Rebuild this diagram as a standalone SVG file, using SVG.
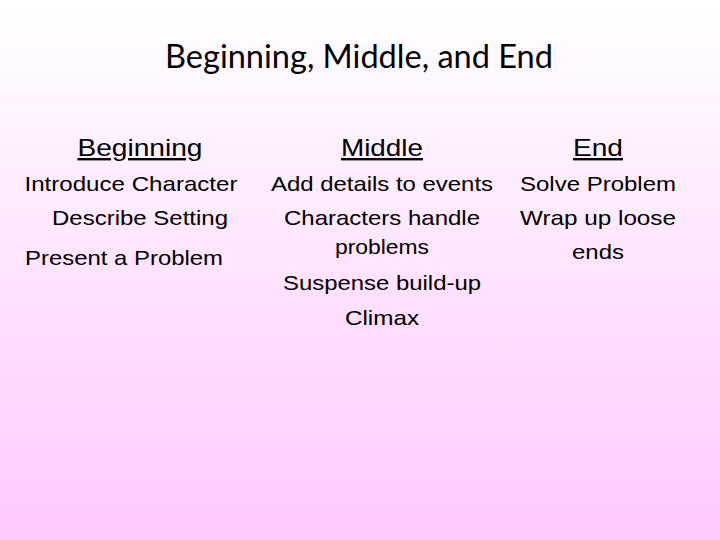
<svg xmlns="http://www.w3.org/2000/svg" width="720" height="540" viewBox="0 0 720 540">
<defs><linearGradient id="bg" x1="0" y1="0" x2="0" y2="1"><stop offset="0" stop-color="#ffffff"/><stop offset="1" stop-color="#ffc8ff"/></linearGradient>
<style>.h{font-family:"Liberation Sans",Arial,sans-serif;font-size:24px;fill:#000;text-anchor:middle;text-decoration:underline}
.t{font-family:"Liberation Sans",Arial,sans-serif;font-size:21px;fill:#000;text-anchor:middle}
.ti{font-family:Lato,"Open Sans",sans-serif;font-size:32px;fill:#000;text-anchor:middle}</style></defs>
<rect width="720" height="540" fill="url(#bg)"/>
<text class="ti" x="359" y="68" textLength="388" lengthAdjust="spacingAndGlyphs">Beginning, Middle, and End</text>
<g id="beginning"><text class="h" x="140" y="156" textLength="125" lengthAdjust="spacingAndGlyphs">Beginning</text>
<text class="t" x="131" y="191" textLength="213" lengthAdjust="spacingAndGlyphs">Introduce Character</text>
<text class="t" x="140" y="225" textLength="176" lengthAdjust="spacingAndGlyphs">Describe Setting</text>
<text class="t" x="124" y="265" textLength="198" lengthAdjust="spacingAndGlyphs">Present a Problem</text></g>
<g id="middle"><text class="h" x="382" y="156" textLength="82" lengthAdjust="spacingAndGlyphs">Middle</text>
<text class="t" x="382" y="191" textLength="222" lengthAdjust="spacingAndGlyphs">Add details to events</text>
<text class="t" x="382" y="225" textLength="196" lengthAdjust="spacingAndGlyphs">Characters handle</text>
<text class="t" x="382" y="254" textLength="94" lengthAdjust="spacingAndGlyphs">problems</text>
<text class="t" x="382" y="290" textLength="198" lengthAdjust="spacingAndGlyphs">Suspense build-up</text>
<text class="t" x="382" y="325" textLength="74" lengthAdjust="spacingAndGlyphs">Climax</text></g>
<g id="end"><text class="h" x="598" y="156" textLength="50" lengthAdjust="spacingAndGlyphs">End</text>
<text class="t" x="598" y="191" textLength="156" lengthAdjust="spacingAndGlyphs">Solve Problem</text>
<text class="t" x="598" y="225" textLength="156" lengthAdjust="spacingAndGlyphs">Wrap up loose</text>
<text class="t" x="598" y="259" textLength="52" lengthAdjust="spacingAndGlyphs">ends</text></g>
<g id="connectors"/>
</svg>
